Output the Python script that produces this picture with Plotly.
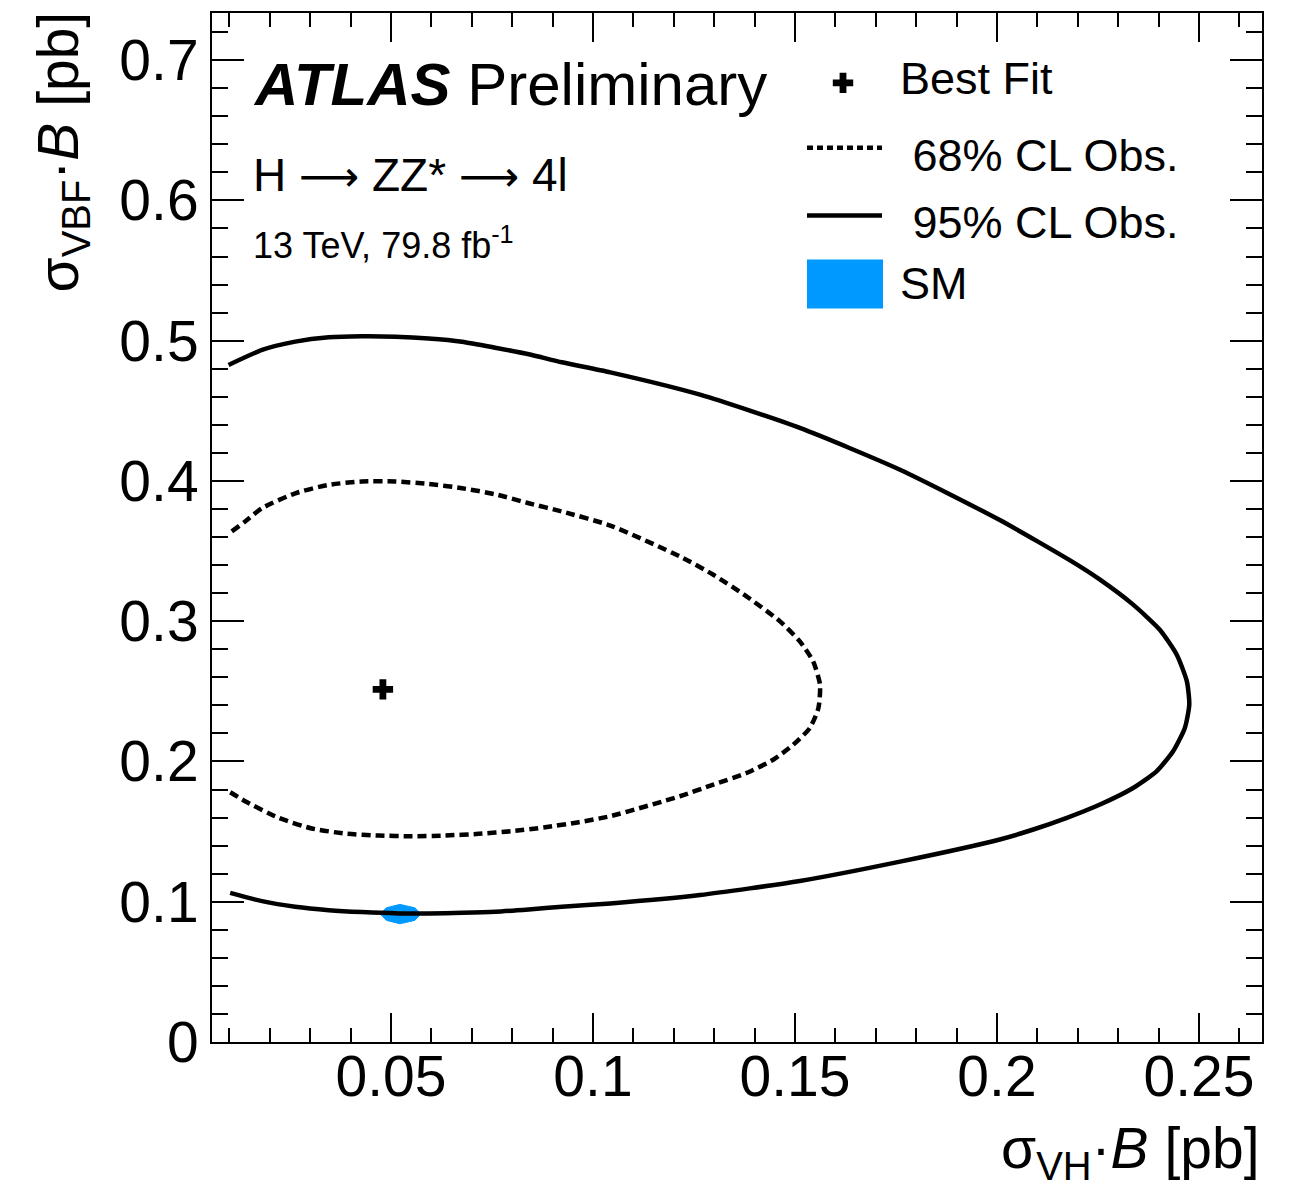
import plotly.graph_objects as go

# ---------------- data (pb) ----------------
cl95_x = [0.0098, 0.0181, 0.0263, 0.0346, 0.0428, 0.0511, 0.0593, 0.0676, 0.0758, 0.0841, 0.0923, 0.1043,
          0.1265, 0.1512, 0.1760, 0.2007, 0.2185, 0.2255, 0.2337, 0.2403, 0.2445, 0.2470, 0.2476, 0.2465,
          0.2436, 0.2395, 0.2337, 0.2255, 0.2173, 0.2090, 0.2007, 0.1760, 0.1512, 0.1265, 0.1043, 0.0923,
          0.0841, 0.0758, 0.0676, 0.0593, 0.0519, 0.0428, 0.0346, 0.0263, 0.0181, 0.0102]
cl95_y = [0.4827, 0.4934, 0.4993, 0.5024, 0.5031, 0.5028, 0.5016, 0.4993, 0.4950, 0.4903, 0.4846, 0.4774,
          0.4615, 0.4378, 0.4080, 0.3721, 0.3426, 0.3296, 0.3118, 0.2939, 0.2761, 0.2571, 0.2405, 0.2239,
          0.2073, 0.1930, 0.1811, 0.1693, 0.1598, 0.1515, 0.1444, 0.1286, 0.1148, 0.1048, 0.0988, 0.0964,
          0.0945, 0.0928, 0.0921, 0.0917, 0.0917, 0.0926, 0.0940, 0.0964, 0.1004, 0.1063]

cl68_x = [0.0106, 0.0139, 0.0181, 0.0263, 0.0346, 0.0428, 0.0511, 0.0593, 0.0676, 0.0758, 0.0841, 0.0923,
          0.1043, 0.1215, 0.1298, 0.1380, 0.1463, 0.1512, 0.1545, 0.1562, 0.1558, 0.1537, 0.1496, 0.1447,
          0.1380, 0.1298, 0.1215, 0.1043, 0.0965, 0.0882, 0.0800, 0.0717, 0.0634, 0.0552, 0.0470, 0.0387,
          0.0304, 0.0222, 0.0139, 0.0098]
cl68_y = [0.3640, 0.3711, 0.3806, 0.3912, 0.3972, 0.3996, 0.3996, 0.3979, 0.3948, 0.3905, 0.3841, 0.3782,
          0.3682, 0.3462, 0.3331, 0.3177, 0.2999, 0.2856, 0.2714, 0.2548, 0.2381, 0.2239, 0.2120, 0.2014,
          0.1918, 0.1835, 0.1752, 0.1610, 0.1567, 0.1531, 0.1503, 0.1484, 0.1472, 0.1467, 0.1472, 0.1486,
          0.1522, 0.1598, 0.1717, 0.1788]

best_fit_x = [0.0480]
best_fit_y = [0.2514]

sm_x = [0.0473, 0.0489, 0.0522, 0.0559, 0.0574, 0.0559, 0.0522, 0.0489, 0.0473]
sm_y = [0.0914, 0.0957, 0.0981, 0.0957, 0.0914, 0.0867, 0.0843, 0.0867, 0.0914]

legend_labels = ["Best Fit", " 68% CL Obs.", " 95% CL Obs.", "SM"]

x_range = [0.0057, 0.2656]
y_range = [0.0, 0.7336]

SM_COLOR = "#0099FF"
FONT = "Liberation Sans, Arial, Helvetica, sans-serif"

# ---------------- geometry (window pixels; page body adds an 8px offset) ----------------
W, H = 1293, 1192
OFF = 8
AX_L, AX_R, AX_T, AX_B = 212, 1262, 11, 1042          # plot frame in window pixels
PW, PH = AX_R - AX_L, AX_B - AX_T
ML, MT = AX_L - OFF, AX_T - OFF
MR = W - (AX_R - OFF)
MB = H - (AX_B - OFF)


def px(p):
    return (p - AX_L) / PW


def py(p):
    return (AX_B - p) / PH


fig = go.Figure()

fig.add_trace(go.Scatter(x=sm_x, y=sm_y, mode="lines", fill="toself", fillcolor=SM_COLOR,
                         line=dict(color=SM_COLOR, width=1), showlegend=False, hoverinfo="skip"))
fig.add_trace(go.Scatter(x=cl95_x, y=cl95_y, mode="lines",
                         line=dict(color="black", width=4.5, shape="spline", smoothing=0.6),
                         showlegend=False))
fig.add_trace(go.Scatter(x=cl68_x, y=cl68_y, mode="lines",
                         line=dict(color="black", width=4.5, dash="9px,5px", shape="spline", smoothing=0.6),
                         showlegend=False))
fig.add_trace(go.Scatter(x=best_fit_x, y=best_fit_y, mode="markers",
                         marker=dict(symbol="cross", size=17, color="black"), showlegend=False))

# legend marker for best fit on an overlay unit axis
fig.add_trace(go.Scatter(x=[px(843)], y=[py(81)], mode="markers", xaxis="x2", yaxis="y2",
                         marker=dict(symbol="cross", size=17, color="black"), showlegend=False, hoverinfo="skip"))

axis_common = dict(showline=True, linewidth=2, linecolor="black", mirror="ticks", ticks="inside",
                   tickwidth=2, tickcolor="black", showgrid=False, zeroline=False,
                   tickfont=dict(family=FONT, size=57, color="black"))

fig.update_layout(
    width=W, height=H,
    margin=dict(l=ML, r=MR, t=MT, b=MB, pad=0),
    paper_bgcolor="white", plot_bgcolor="white",
    xaxis=dict(range=x_range, tick0=0, dtick=0.05, ticklen=29, ticklabelstandoff=-16,
               minor=dict(dtick=0.01, tick0=0, ticklen=14, tickwidth=2, tickcolor="black", ticks="inside"),
               **axis_common),
    yaxis=dict(range=y_range, tick0=0, dtick=0.1, ticklen=32,
               minor=dict(dtick=0.02, tick0=0, ticklen=16, tickwidth=2, tickcolor="black", ticks="inside"),
               **axis_common),
    xaxis2=dict(range=[0, 1], overlaying="x", visible=False, fixedrange=True),
    yaxis2=dict(range=[0, 1], overlaying="y", visible=False, fixedrange=True),
    showlegend=False,
)

ARROW = '<span style="font-family:DejaVu Sans;font-size:42px">⟶</span>'

ann = []
# axis titles
ann.append(dict(text="σ<sub>VH</sub>·<i>B</i> [pb]", x=1.0, xanchor="right", y=py(1152), yanchor="middle",
                xref="paper", yref="paper", showarrow=False, font=dict(family=FONT, size=57, color="black")))
ann.append(dict(text="σ<sub>VBF</sub>·<i>B</i> [pb]", textangle=-90, x=px(62), xanchor="center", y=py(8),
                yanchor="top", xref="paper", yref="paper", showarrow=False,
                font=dict(family=FONT, size=57, color="black")))
# ATLAS labels
ann.append(dict(text="<b><i>ATLAS</i></b> Preliminary", x=px(251), xanchor="left", y=py(83), yanchor="middle",
                xref="paper", yref="paper", showarrow=False, font=dict(family=FONT, size=60, color="black")))
ann.append(dict(text="H " + ARROW + " ZZ* " + ARROW + " 4l", x=px(251), xanchor="left", y=py(173),
                yanchor="middle", xref="paper", yref="paper", showarrow=False,
                font=dict(family=FONT, size=46, color="black")))
ann.append(dict(text="13 TeV, 79.8 fb<sup>-1</sup>", x=px(251), xanchor="left", y=py(241), yanchor="middle",
                xref="paper", yref="paper", showarrow=False, font=dict(family=FONT, size=36, color="black")))
# legend texts
leg_y = [77, 154, 221, 282]
leg_x = [898, 898, 898, 898]
for lab, lx, ly in zip(legend_labels, leg_x, leg_y):
    ann.append(dict(text=lab, x=px(lx), xanchor="left", y=py(ly), yanchor="middle", xref="paper", yref="paper",
                    showarrow=False, font=dict(family=FONT, size=45, color="black")))

shapes = [
    dict(type="line", xref="paper", yref="paper", x0=px(807), x1=px(882), y0=py(146), y1=py(146),
         line=dict(color="black", width=4.5, dash="6px,4px")),
    dict(type="line", xref="paper", yref="paper", x0=px(807), x1=px(882), y0=py(214), y1=py(214),
         line=dict(color="black", width=4.5)),
    dict(type="rect", xref="paper", yref="paper", x0=px(807), x1=px(883), y0=py(307), y1=py(258),
         line=dict(width=0), fillcolor=SM_COLOR),
]

fig.update_layout(annotations=ann, shapes=shapes)

fig.write_html("out.html")
